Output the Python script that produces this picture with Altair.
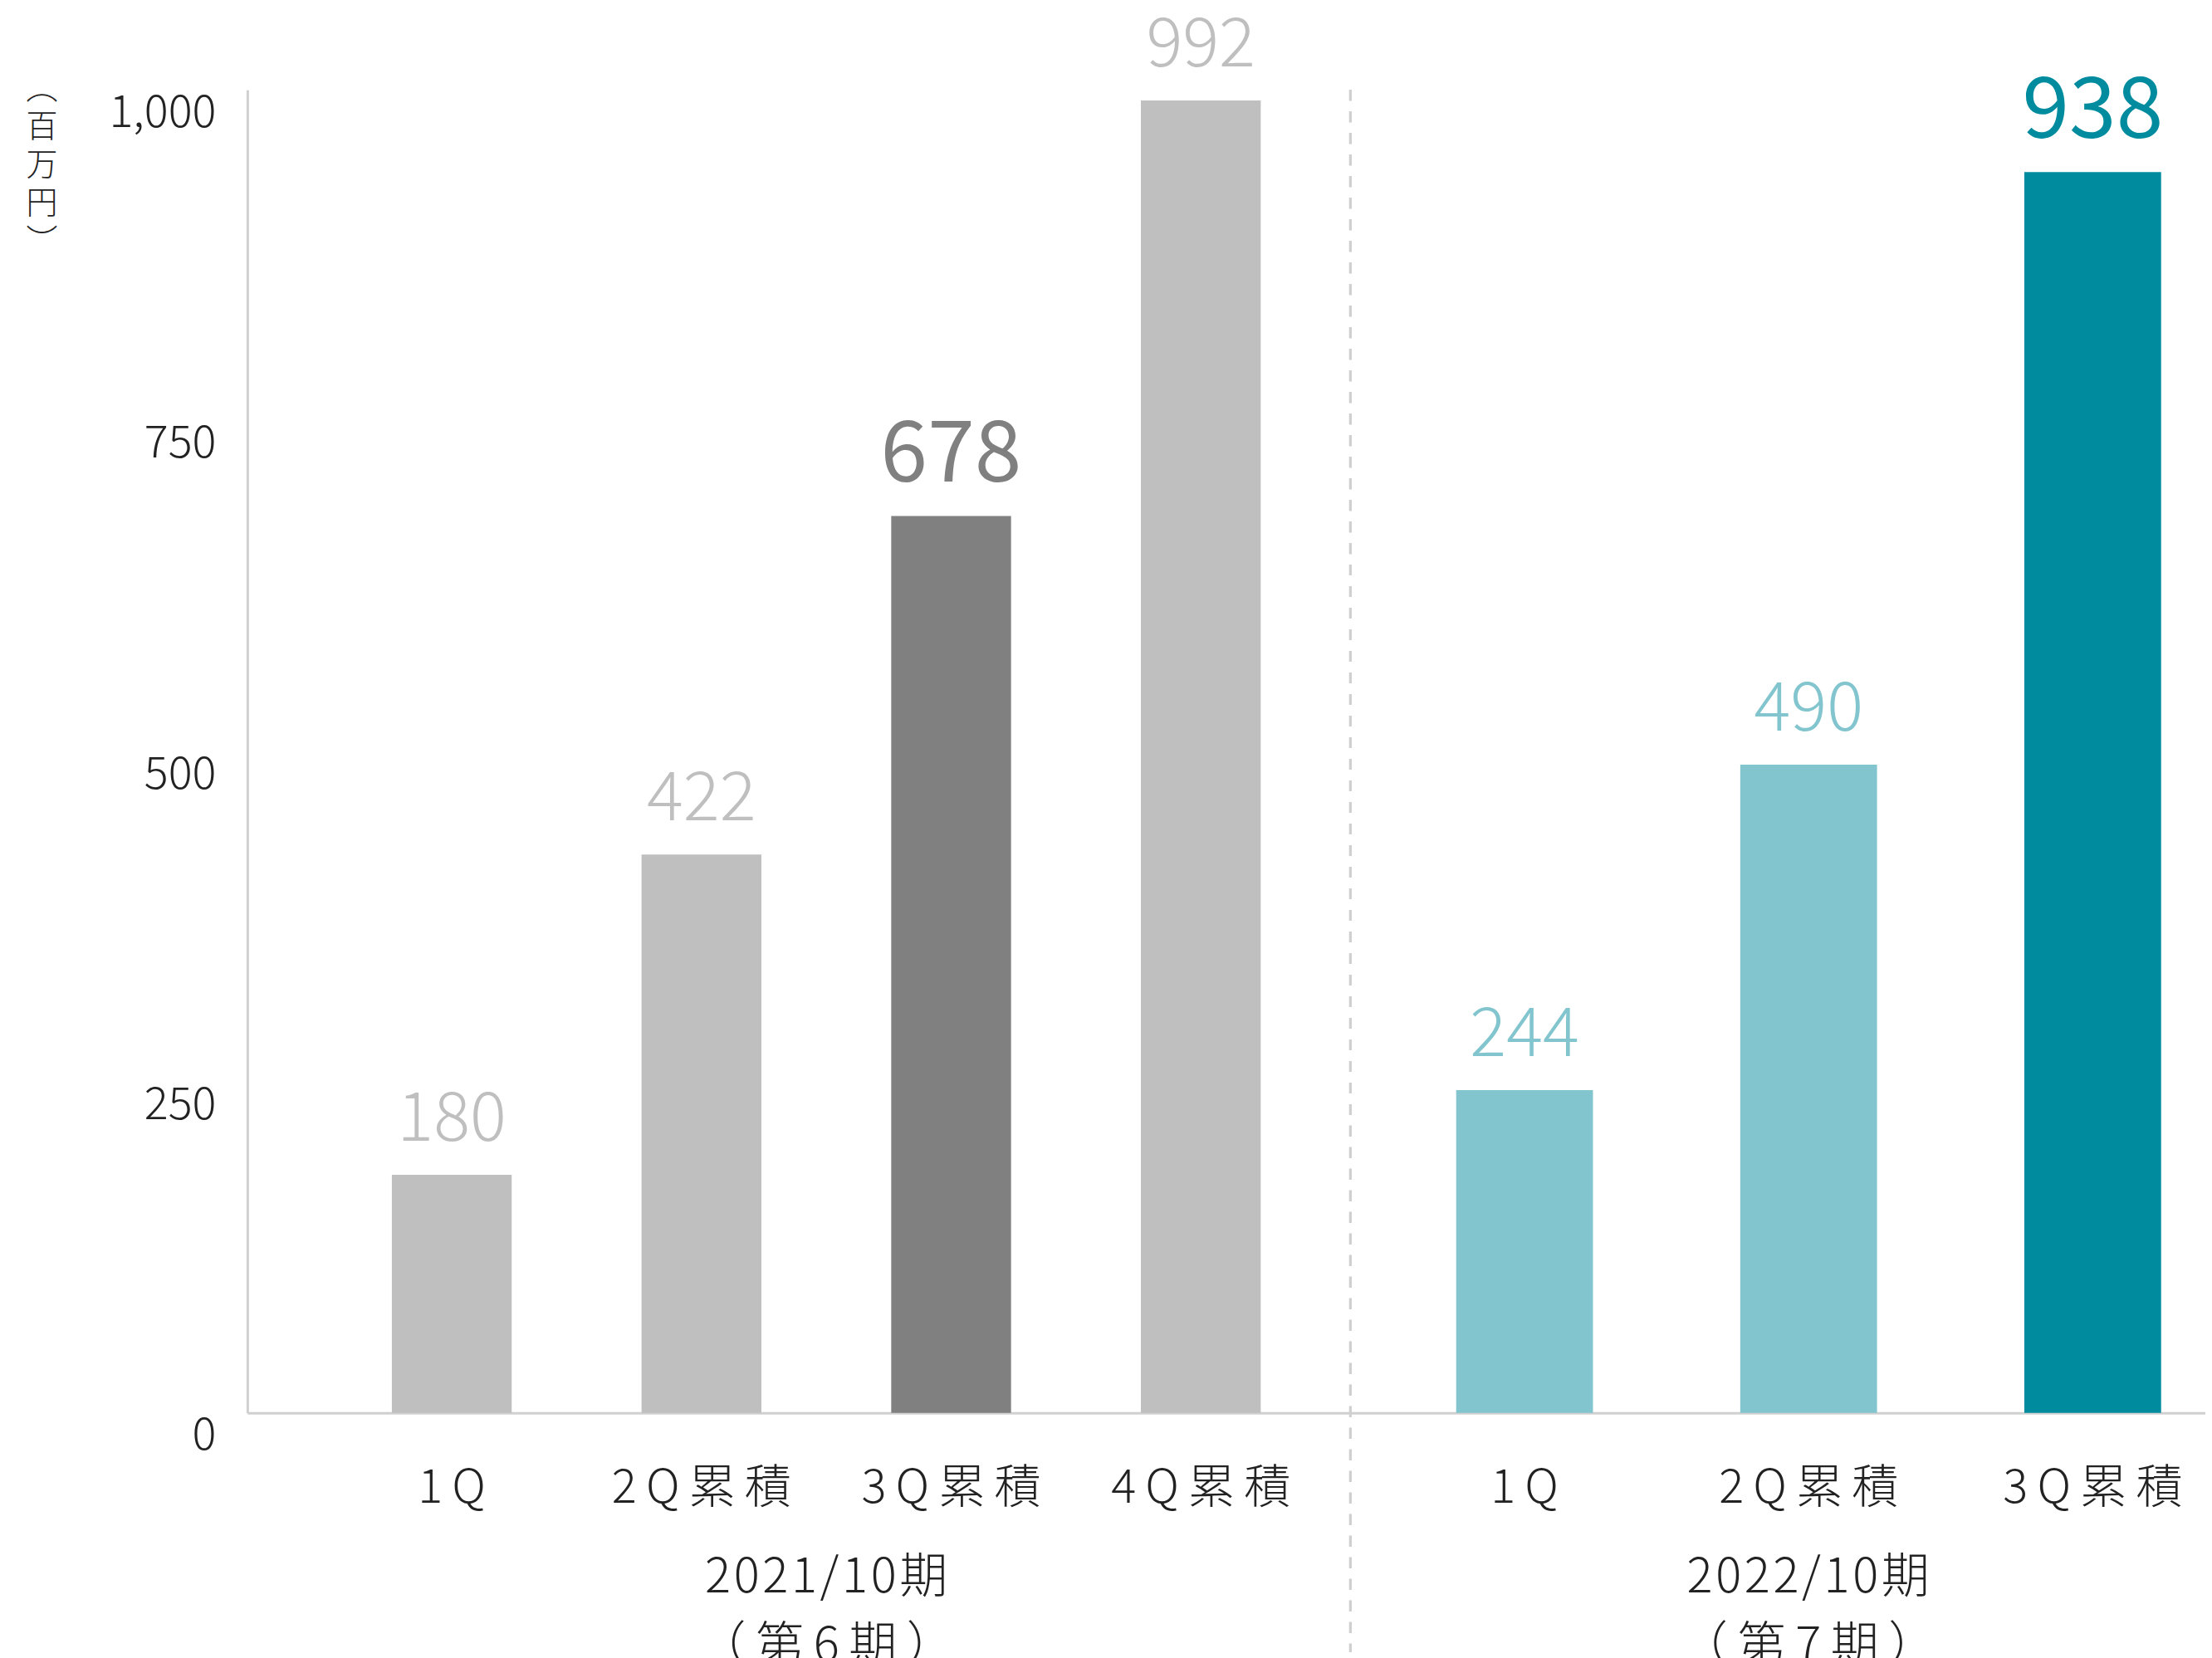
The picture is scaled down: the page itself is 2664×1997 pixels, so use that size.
import altair as alt
import pandas as pd

# ---- data ----
cats_2021 = ["1Q", "2Q累積", "3Q累積", "4Q累積"]
vals_2021 = [180, 422, 678, 992]
cols_2021 = ["#BFBFBF", "#BFBFBF", "#808080", "#BFBFBF"]
hi_2021 = [False, False, True, False]

cats_2022 = ["1Q", "2Q累積", "3Q累積"]
vals_2022 = [244, 490, 938]
cols_2022 = ["#82C5CE", "#82C5CE", "#008C9E"]
hi_2022 = [False, False, True]

period_2021 = ["2021/10期", "（第6期）"]
period_2022 = ["2022/10期", "（第7期）"]
unit_lines = ["︵", "百", "万", "円", "︶"]
y_ticks = [0, 250, 500, 750, 1000]

FONT = "Noto Sans CJK JP"
TXT = "#222222"
LINE = "#D0D0D0"
H = 1594
W1 = 1329
W2 = 1030

HAIR = "\u200a"
THIN = "\u2009"


def tracked(lines):
    # emulate the wide letter spacing of the original typesetting
    return [HAIR.join(list(lines[0])), THIN.join(list(lines[1]))]


LABEL_EXPR = "join(split(datum.label, ''), '" + THIN + "')"


def panel(cats, vals, cols, hi, width, pad_inner, pad_outer, align,
          title_lines, title_x, first):
    df = pd.DataFrame({"cat": cats, "val": vals, "col": cols, "hi": hi})
    x = alt.X(
        "cat:N", sort=cats,
        scale=alt.Scale(paddingInner=pad_inner, paddingOuter=pad_outer, align=align),
        axis=alt.Axis(
            labelAngle=0, ticks=False, tickSize=0, labelPadding=64, labelLimit=0,
            labelExpr=LABEL_EXPR,
            labelFont=FONT, labelFontSize=56, labelColor=TXT, labelFontWeight=300,
            labelBaseline="top",
            domainColor=LINE, domainWidth=3,
            title=tracked(title_lines), titleFont=FONT, titleFontSize=58,
            titleFontWeight=300,
            titleColor=TXT, titleLineHeight=83, titleBaseline="top", titleAlign="center",
            titleAnchor="start", titleX=title_x, titleY=170, titleLimit=0,
        ),
    )
    if first:
        yaxis = alt.Axis(
            values=y_ticks, format=",.0f", ticks=False, tickSize=0, grid=False,
            labelPadding=38, labelOffset=28, labelBaseline="middle",
            labelFont=FONT, labelFontSize=54, labelColor=TXT, labelFontWeight=300,
            domainColor=LINE, domainWidth=3,
            title=unit_lines, titleAngle=0, titleFont=FONT, titleFontSize=38,
            titleFontWeight=300, titleColor=TXT, titleLineHeight=46,
            titleBaseline="top", titleAlign="center", titleX=-248, titleY=-20,
        )
    else:
        yaxis = None
    y = alt.Y("val:Q", scale=alt.Scale(domain=[0, 1000], nice=False), axis=yaxis)
    base = alt.Chart(df)
    bars = base.mark_bar().encode(x=x, y=y, color=alt.Color("col:N", scale=None))
    lab_n = base.transform_filter("!datum.hi").mark_text(
        font=FONT, fontSize=82, fontWeight=300, dy=-41, baseline="alphabetic", align="center"
    ).encode(x=x, y=y, text=alt.Text("val:Q"), color=alt.Color("col:N", scale=None))
    lab_h = base.transform_filter("datum.hi").mark_text(
        font=FONT, fontSize=102, fontWeight=400, dy=-41, baseline="alphabetic", align="center"
    ).encode(x=x, y=y, text=alt.Text("val:Q"), color=alt.Color("col:N", scale=None))
    layers = [bars, lab_n, lab_h]
    if not first:
        divider = alt.Chart(df).mark_rule(
            color=LINE, strokeWidth=3, strokeDash=[13, 13]
        ).encode(x=alt.value(0), y=alt.value(0), y2=alt.value(H + 288))
        layers = [divider] + layers
    return alt.layer(*layers).properties(width=width, height=H)


p1 = panel(cats_2021, vals_2021, cols_2021, hi_2021, W1, 0.52, 0.469, 0.617,
           period_2021, 697, True)
p2 = panel(cats_2022, vals_2022, cols_2022, hi_2022, W2, 0.5185, 0.264, 0.705,
           period_2022, 551, False)

chart = alt.hconcat(p1, p2, spacing=0, bounds="flush").properties(
    padding={"left": 22, "top": 5, "right": 0, "bottom": 0}
).configure(font=FONT).configure_view(stroke=None)

chart.save("out.html", embed_options={"renderer": "svg", "actions": False})
